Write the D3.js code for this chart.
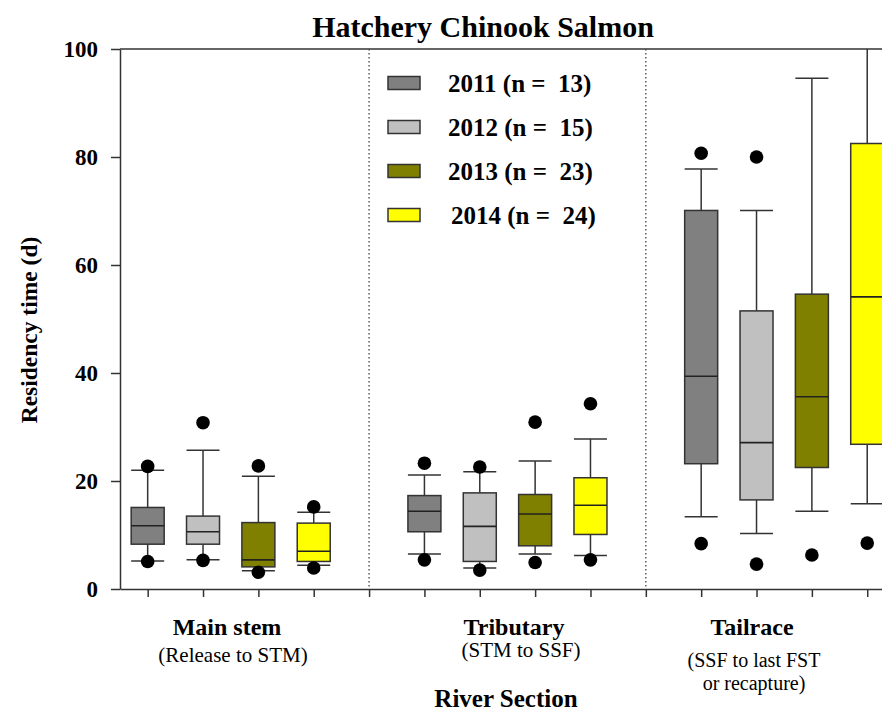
<!DOCTYPE html>
<html>
<head>
<meta charset="utf-8">
<script src="https://cdn.jsdelivr.net/npm/d3@7"></script>
<style>
  html, body { margin: 0; padding: 0; background: #fff; }
  svg { display: block; }
  text { font-family: "Liberation Serif", "Times New Roman", serif; fill: #000; }
</style>
</head>
<body>
<svg id="chart" width="882" height="712"></svg>
<script>
// River sections and release years
const sections = ["Main stem", "Tributary", "Tailrace"];
const sectionNotes = [["(Release to STM)"], ["(STM to SSF)"], ["(SSF to last FST", "or recapture)"]];
const years = ["2011", "2012", "2013", "2014"];
const counts = [13, 15, 23, 24];
const yearColors = ["#808080", "#c0c0c0", "#808000", "#ffff00"];
const yTicks = [0, 20, 40, 60, 80, 100];

// Residency time (d) summaries, one value per section: Main stem, Tributary, Tailrace
const whiskerLow = {
  "2011": [5.2, 6.5, 13.4],
  "2012": [5.4, 3.9, 10.3],
  "2013": [3.4, 6.5, 14.4],
  "2014": [4.4, 6.2, 15.8]
};
const q1 = {
  "2011": [8.3, 10.6, 23.2],
  "2012": [8.3, 5.1, 16.5],
  "2013": [4.1, 8.0, 22.5],
  "2014": [5.1, 10.1, 26.8]
};
const median = {
  "2011": [11.7, 14.4, 39.4],
  "2012": [10.6, 11.6, 27.1],
  "2013": [5.4, 13.9, 35.6],
  "2014": [7.0, 15.5, 54.1]
};
const q3 = {
  "2011": [15.1, 17.3, 70.1],
  "2012": [13.5, 17.8, 51.5],
  "2013": [12.3, 17.5, 54.6],
  "2014": [12.2, 20.6, 82.5]
};
const whiskerHigh = {
  "2011": [22.0, 21.1, 77.8],
  "2012": [25.7, 21.7, 70.1],
  "2013": [20.9, 23.7, 94.6],
  "2014": [14.2, 27.8, 106.0]
};
const outlierLow = {
  "2011": [5.1, 5.4, 8.4],
  "2012": [5.3, 3.5, 4.6],
  "2013": [3.1, 4.9, 6.3],
  "2014": [3.9, 5.4, 8.5]
};
const outlierHigh = {
  "2011": [22.7, 23.3, 80.7],
  "2012": [30.8, 22.6, 80.0],
  "2013": [22.8, 30.9, null],
  "2014": [15.2, 34.3, null]
};

const svg = d3.select("#chart");
const plotLeft = 120, plotRight = 882, plotTop = 49, plotBottom = 589;
const slot = 55.35;                       // one slot per box, one per section gap
const slotsPerSection = years.length + 1;

const x = d3.scaleLinear().domain([0, (plotRight - plotLeft) / slot]).range([plotLeft, plotRight]);
const y = d3.scaleLinear().domain([0, 100]).range([plotBottom, plotTop]);

const boxPos = (si, yi) => si * slotsPerSection + yi + 0.5;
const boxW = 33;
const ink = "#333";

// clip marks to the plotting frame
svg.append("defs").append("clipPath").attr("id", "plotClip")
  .append("rect").attr("x", plotLeft).attr("y", plotTop)
  .attr("width", plotRight - plotLeft).attr("height", plotBottom - plotTop);

// frame top line
svg.append("line").attr("x1", plotLeft).attr("x2", plotRight).attr("y1", y(100)).attr("y2", y(100))
  .attr("stroke", ink).attr("stroke-width", 1.5);

// dotted section separators
const seps = d3.range(1, sections.length).map(s => s * slotsPerSection - 0.5);
svg.selectAll("line.sep").data(seps).join("line").attr("class", "sep")
  .attr("x1", d => x(d)).attr("x2", d => x(d)).attr("y1", y(100)).attr("y2", y(0))
  .attr("stroke", "#444").attr("stroke-width", 1.3).attr("stroke-dasharray", "1.5,2.5");

// y axis
const yAxis = svg.append("g").attr("transform", `translate(${plotLeft},0)`)
  .call(d3.axisLeft(y).tickValues(yTicks).tickSize(9).tickPadding(13).tickSizeOuter(0));
yAxis.select(".domain").attr("stroke", ink).attr("stroke-width", 1.5);
yAxis.selectAll(".tick line").attr("stroke", ink).attr("stroke-width", 1.5);
yAxis.selectAll(".tick text").attr("font-size", 23).attr("font-weight", "bold")
  .attr("font-family", "Liberation Serif, serif").attr("fill", "#000");

// x axis: ticks at every box and at every section gap
const xTickVals = [];
sections.forEach((s, si) => years.forEach((yr, yi) => xTickVals.push(boxPos(si, yi))));
seps.forEach(v => xTickVals.push(v));
xTickVals.sort((a, b) => a - b);
const xAxis = svg.append("g").attr("transform", `translate(0,${plotBottom})`)
  .call(d3.axisBottom(x).tickValues(xTickVals).tickSize(8).tickFormat("").tickSizeOuter(0));
xAxis.select(".domain").attr("stroke", ink).attr("stroke-width", 1.5);
xAxis.selectAll(".tick line").attr("stroke", ink).attr("stroke-width", 1.5);

// box plots
const boxes = [];
sections.forEach((s, si) => years.forEach((yr, yi) => boxes.push({
  si, yi, yr,
  wl: whiskerLow[yr][si], q1: q1[yr][si], med: median[yr][si], q3: q3[yr][si],
  wh: whiskerHigh[yr][si], ol: outlierLow[yr][si], oh: outlierHigh[yr][si]
})));

const plot = svg.append("g").attr("clip-path", "url(#plotClip)");
const g = plot.selectAll("g.box").data(boxes).join("g").attr("class", "box")
  .attr("transform", d => `translate(${x(boxPos(d.si, d.yi))},0)`);

g.append("line").attr("y1", d => y(d.q3)).attr("y2", d => y(d.wh))
  .attr("stroke", ink).attr("stroke-width", 1.5);
g.append("line").attr("y1", d => y(d.q1)).attr("y2", d => y(d.wl))
  .attr("stroke", ink).attr("stroke-width", 1.5);
g.append("line").attr("x1", -boxW / 2).attr("x2", boxW / 2)
  .attr("y1", d => y(d.wh)).attr("y2", d => y(d.wh)).attr("stroke", ink).attr("stroke-width", 1.5);
g.append("line").attr("x1", -boxW / 2).attr("x2", boxW / 2)
  .attr("y1", d => y(d.wl)).attr("y2", d => y(d.wl)).attr("stroke", ink).attr("stroke-width", 1.5);
g.append("rect").attr("x", -boxW / 2).attr("width", boxW)
  .attr("y", d => y(d.q3)).attr("height", d => y(d.q1) - y(d.q3))
  .attr("fill", d => yearColors[d.yi]).attr("stroke", ink).attr("stroke-width", 1.5);
g.append("line").attr("x1", -boxW / 2).attr("x2", boxW / 2)
  .attr("y1", d => y(d.med)).attr("y2", d => y(d.med)).attr("stroke", "#222").attr("stroke-width", 1.6);
g.filter(d => d.oh != null).append("circle").attr("cy", d => y(d.oh)).attr("r", 6.8).attr("fill", "#000");
g.filter(d => d.ol != null).append("circle").attr("cy", d => y(d.ol)).attr("r", 6.8).attr("fill", "#000");

// legend
const legendRow = d3.scaleLinear().domain([0, 1]).range([83, 127]);
const lg = svg.selectAll("g.legend").data(years).join("g").attr("class", "legend")
  .attr("transform", (d, i) => `translate(388,${legendRow(i)})`);
lg.append("rect").attr("x", 0).attr("y", -6.5).attr("width", 32).attr("height", 13)
  .attr("fill", (d, i) => yearColors[i]).attr("stroke", ink).attr("stroke-width", 1.5);
lg.append("text").attr("x", (d, i) => i === 3 ? 63 : 60).attr("y", 8.5)
  .attr("font-size", 25).attr("font-weight", "bold").style("white-space", "pre")
  .text((d, i) => `${d} (n =  ${counts[i]})`);

// title
svg.append("text").attr("x", 483).attr("y", 37).attr("text-anchor", "middle")
  .attr("font-size", 30).attr("font-weight", "bold").text("Hatchery Chinook Salmon");

// section labels with their reach descriptions
const labelCenters = [227, 514, 752];
const noteCenters = [233, 521, 754];
const noteBaselines = [662, 657, 667];
svg.selectAll("text.sec").data(sections).join("text").attr("class", "sec")
  .attr("x", (d, i) => labelCenters[i]).attr("y", 635).attr("text-anchor", "middle")
  .attr("font-size", 24).attr("font-weight", "bold").text(d => d);
sectionNotes.forEach((lines, si) => {
  lines.forEach((ln, li) => {
    svg.append("text").attr("x", noteCenters[si]).attr("y", noteBaselines[si] + li * 23)
      .attr("text-anchor", "middle").attr("font-size", si === 2 ? 20 : 21).text(ln);
  });
});

// axis titles
svg.append("text").attr("x", 506).attr("y", 707).attr("text-anchor", "middle")
  .attr("font-size", 25).attr("font-weight", "bold").text("River Section");
svg.append("text").attr("transform", "translate(37,330) rotate(-90)").attr("text-anchor", "middle")
  .attr("font-size", 23.5).attr("font-weight", "bold").text("Residency time (d)");
</script>
</body>
</html>
